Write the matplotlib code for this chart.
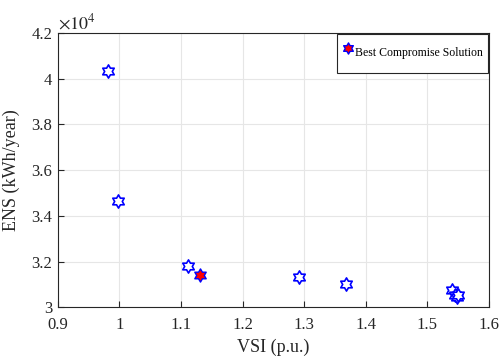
import matplotlib.pyplot as plt
import numpy as np
from matplotlib.path import Path

plt.rcParams['font.family'] = 'Liberation Serif'
plt.rcParams['mathtext.fontset'] = 'stix'

vsi = [0.982, 0.998, 1.111, 1.292, 1.368, 1.540, 1.545, 1.548, 1.550]
ens = [40350, 34650, 31820, 31330, 31030, 30750, 30550, 30450, 30520]
best_vsi = [1.131]
best_ens = [31420]

# hexagram marker (star of David outline)
ang = np.pi / 2 + np.arange(12) * np.pi / 6
rad = np.where(np.arange(12) % 2 == 0, 1.0, 0.58)
verts = np.column_stack([rad * np.cos(ang), rad * np.sin(ang)])
verts = np.vstack([verts, verts[0]])
codes = [Path.MOVETO] + [Path.LINETO] * 11 + [Path.CLOSEPOLY]
hexagram = Path(verts, codes)

fig = plt.figure(figsize=(5.02, 3.62), dpi=100)
ax = fig.add_axes([0.115, 0.151, 0.859, 0.758])

ax.scatter(vsi, ens, marker=hexagram, s=90, facecolors='white', edgecolors='blue', linewidths=1.2, zorder=3)
ax.scatter(best_vsi, best_ens, marker=hexagram, s=90, facecolors='red', edgecolors='blue', linewidths=1.0, zorder=4,
           label='Best Compromise Solution')

ax.set_xlim(0.9, 1.6)
ax.set_ylim(30000, 42000)
ax.set_xticks(np.arange(0.9, 1.61, 0.1))
ax.set_xticklabels(['0.9', '1', '1.1', '1.2', '1.3', '1.4', '1.5', '1.6'])
ax.set_yticks(np.arange(30000, 42001, 2000))
ax.set_yticklabels(['3', '3.2', '3.4', '3.6', '3.8', '4', '4.2'])
ax.text(0.0, 1.0, r'$\times 10^4$', transform=ax.transAxes, fontsize=13, va='bottom', ha='left',
        color='#262626')
ax.tick_params(direction='in', labelsize=12, colors='#262626', length=4, top=False, right=False)
ax.tick_params(axis='x', pad=7)
ax.tick_params(axis='y', pad=4)
ax.grid(True, color='#e6e6e6', linewidth=0.8)
for sp in ax.spines.values():
    sp.set_color('#262626')
    sp.set_linewidth(0.8)
ax.set_xlabel('VSI (p.u.)', fontsize=13, color='#262626', labelpad=4)
ax.set_ylabel('ENS (kWh/year)', fontsize=13, color='#262626', labelpad=8)
leg = ax.legend(loc='upper right', fontsize=8.5, handletextpad=0.1, handlelength=1.0, handleheight=3.4,
                scatteryoffsets=[0.31], markerscale=0.85, borderaxespad=0.1, borderpad=0.4,
                fancybox=False, edgecolor='#262626', framealpha=1)
leg.get_frame().set_linewidth(0.8)
# centre the label vertically against the tall handle box
for col in leg._legend_handle_box.get_children():
    for row in col.get_children():
        row.align = 'center'

fig.savefig('out.png', dpi=100)
